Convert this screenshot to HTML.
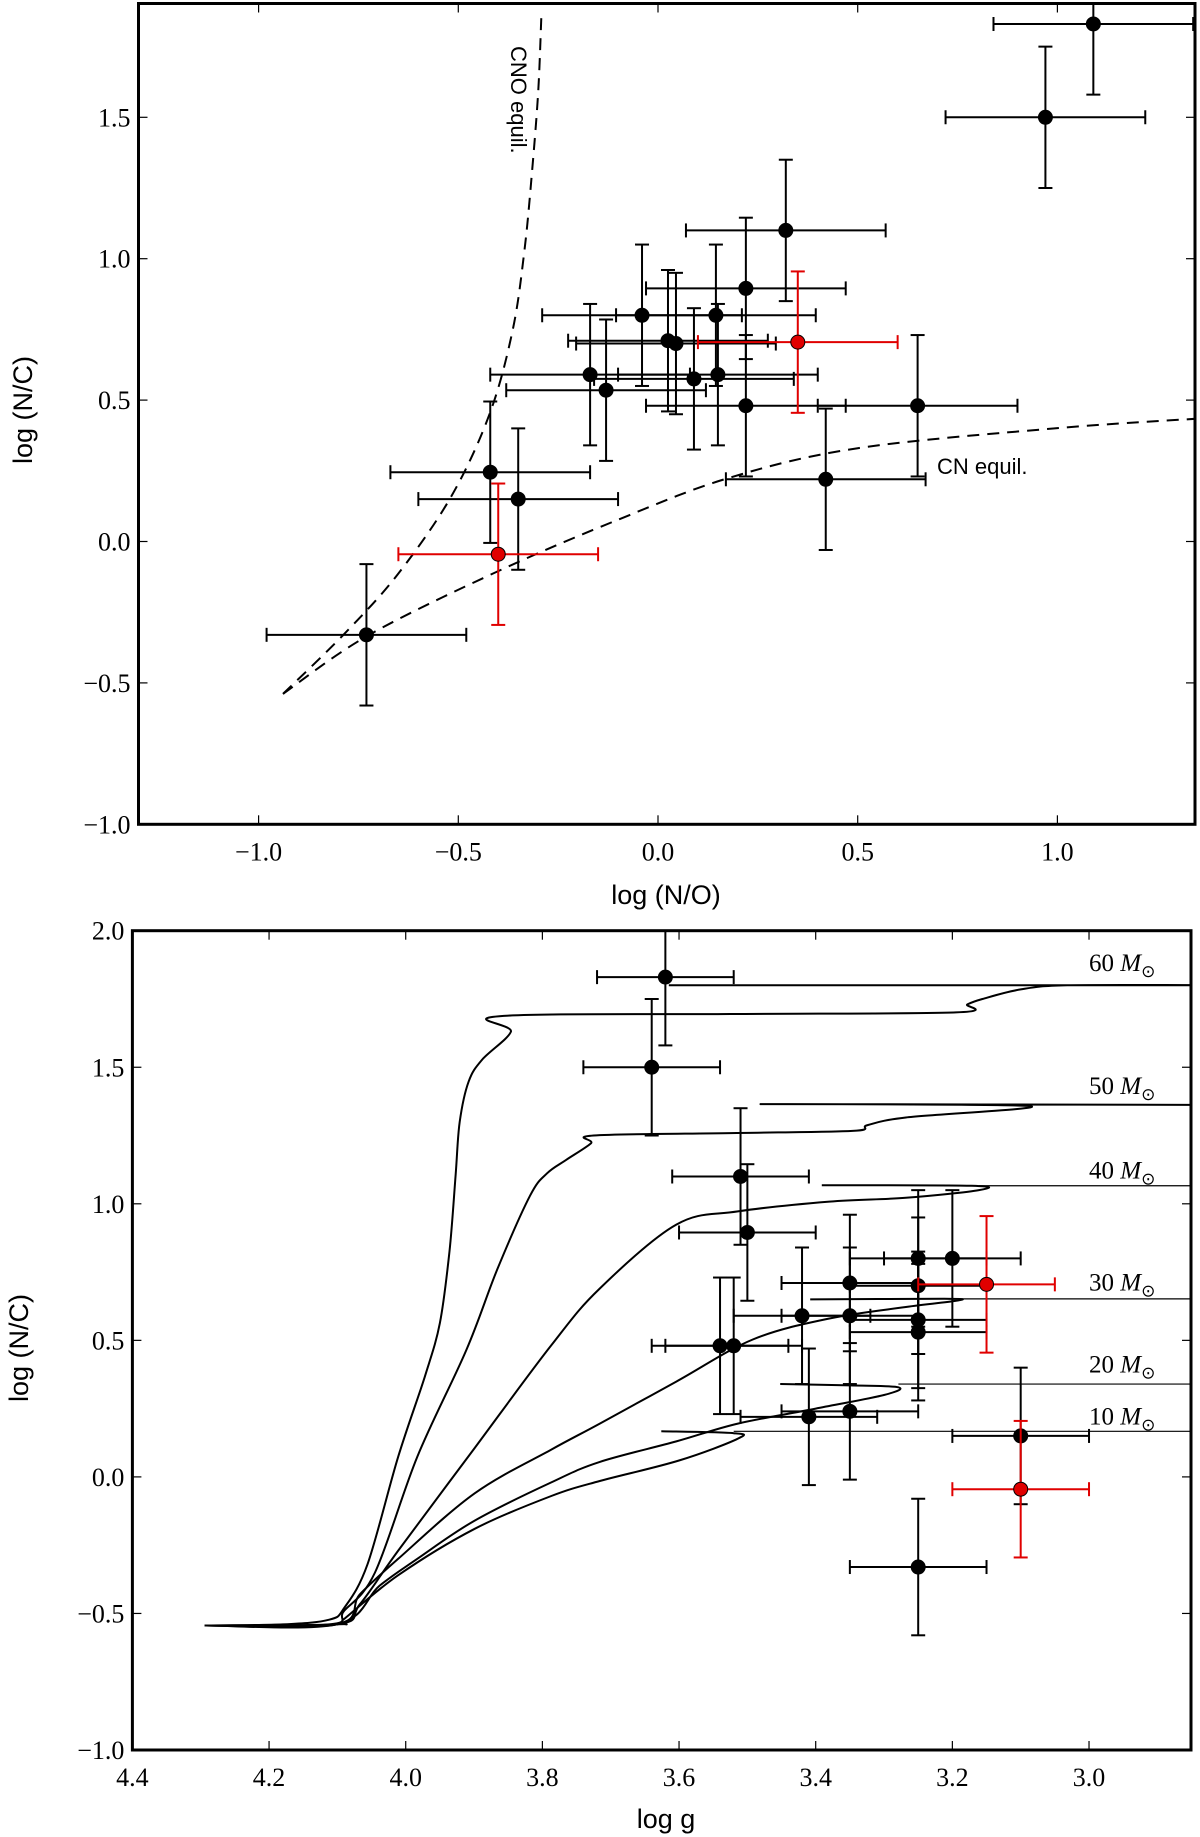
<!DOCTYPE html>
<html><head><meta charset="utf-8"><style>
html,body{margin:0;padding:0;background:#fff;}
svg{display:block;}
.tick{font-family:"Liberation Serif",serif;font-size:26px;fill:#000;}
.alab{font-family:"Liberation Sans",sans-serif;font-size:27px;fill:#000;}
.ann{font-family:"Liberation Sans",sans-serif;font-size:22px;fill:#000;}
.mlab{font-family:"Liberation Serif",serif;font-size:25px;fill:#000;}
</style></head><body>
<svg id="fig" width="1200" height="1837" viewBox="0 0 1200 1837" xmlns="http://www.w3.org/2000/svg">
<g id="topPanel"></g>
<g id="botPanel"></g>
</svg>
<script>
// ---- data: top panel ----
const noVals = [1.09,0.97,0.32,0.22,-0.04,0.025,0.045,0.145,0.35,-0.17,-0.13,0.09,0.15,0.22,0.65,0.42,-0.42,-0.35,-0.40,-0.73];
const ncVals = [1.83,1.50,1.10,0.895,0.80,0.71,0.70,0.80,0.705,0.59,0.535,0.575,0.59,0.48,0.48,0.22,0.245,0.15,-0.045,-0.33];
const isRed  = [0,0,0,0,0,0,0,0,1,0,0,0,0,0,0,0,0,0,1,0];
const noErr = 0.25;
const ncErr = 0.25;
const cnoX = [-0.939,-0.785,-0.651,-0.517,-0.421,-0.364,-0.335,-0.316,-0.30,-0.292];
const cnoY = [-0.539,-0.326,-0.115,0.161,0.454,0.746,1.022,1.298,1.59,1.86];
const cnX = [-0.939,-0.728,-0.402,-0.095,0.18,0.50,0.993,1.357];
const cnY = [-0.539,-0.334,-0.106,0.08,0.226,0.33,0.40,0.435];
const topXTicks = [-1.0,-0.5,0.0,0.5,1.0];
const topYTicks = [-1.0,-0.5,0.0,0.5,1.0,1.5];
// ---- data: bottom panel ----
const gVals  = [3.62,3.64,3.51,3.50,3.25,3.20,3.15,3.35,3.25,3.42,3.35,3.25,3.25,3.54,3.52,3.41,3.35,3.10,3.10,3.25];
const gNc    = [1.83,1.50,1.10,0.895,0.80,0.80,0.705,0.71,0.70,0.59,0.59,0.575,0.53,0.48,0.48,0.22,0.24,0.15,-0.045,-0.33];
const gRed   = [0,0,0,0,0,0,1,0,0,0,0,0,0,0,0,0,0,0,1,0];
const gErr = 0.1;
const trackNames = ["60","50","40","30","20","10"];
const trackG = [
 [4.294,4.18,4.112,4.09,4.056,4.011,3.972,3.95,3.936,3.927,3.921,3.908,3.888,3.846,3.863,3.525,3.195,3.178,3.156,3.10,3.032,2.85,3.615],
 [4.294,4.112,4.09,4.045,3.983,3.911,3.866,3.818,3.793,3.765,3.729,3.725,3.525,3.346,3.324,3.268,3.088,3.478,2.85],
 [4.294,4.101,4.067,4.011,3.899,3.787,3.716,3.604,3.514,3.38,3.268,3.161,3.172,3.391],
 [4.294,4.101,4.067,4.011,3.899,3.787,3.716,3.604,3.492,3.38,3.268,3.192,3.212,3.408],
 [4.294,4.101,4.039,3.983,3.899,3.787,3.716,3.604,3.514,3.40,3.30,3.279,3.35,3.452],
 [4.294,4.101,4.09,4.011,3.899,3.787,3.716,3.60,3.514,3.52,3.626]
];
const trackN = [
 [-0.544,-0.54,-0.523,-0.48,-0.32,0.074,0.368,0.564,0.826,1.104,1.30,1.447,1.528,1.63,1.687,1.695,1.701,1.73,1.75,1.785,1.80,1.80,1.80],
 [-0.544,-0.54,-0.49,-0.35,0.074,0.466,0.76,1.03,1.112,1.161,1.221,1.25,1.259,1.267,1.288,1.316,1.358,1.365,1.362],
 [-0.544,-0.54,-0.466,-0.27,0.106,0.482,0.69,0.924,0.972,1.008,1.022,1.05,1.066,1.068],
 [-0.544,-0.54,-0.43,-0.30,-0.06,0.10,0.195,0.349,0.503,0.58,0.622,0.646,0.652,0.65],
 [-0.544,-0.54,-0.40,-0.30,-0.16,-0.02,0.055,0.13,0.195,0.25,0.30,0.328,0.335,0.34],
 [-0.544,-0.54,-0.52,-0.36,-0.19,-0.07,-0.015,0.06,0.14,0.16,0.167]
];
const thinStartG = [null,null,3.161,3.192,3.279,3.52];
const thinN = [null,null,1.066,0.652,0.34,0.167];
const labelN = [1.83,1.38,1.07,0.66,0.36,0.17];
const botXTicks = [4.4,4.2,4.0,3.8,3.6,3.4,3.2,3.0];
const botYTicks = [-1.0,-0.5,0.0,0.5,1.0,1.5,2.0];

const NS="http://www.w3.org/2000/svg";
function mk(parent,tag,attrs){const e=document.createElementNS(NS,tag);for(const k in attrs)e.setAttribute(k,attrs[k]);parent.appendChild(e);return e;}
function fmt(v,d){let s=v.toFixed(d);return s.replace('-','\u2212');}

const T={x0:138.5,x1:1195,y0:3.5,y1:824.3};
const tx=v=>658+v*399.4;
const ty=v=>824.3-(v+1)*282.8;
const B={x0:132.4,x1:1191,y0:930.7,y1:1750};
const bx=v=>132.4+(4.4-v)*683.3;
const by=v=>930.7+(2-v)*273.1;

function frame(g,A,name){
  const r=mk(g,'rect',{x:A.x0,y:A.y0,width:A.x1-A.x0,height:A.y1-A.y0,fill:'none',stroke:'#000','stroke-width':3});
  
  
}
function ticksX(g,A,vals,f,dec,name){
  vals.forEach(v=>{const x=f(v);
    mk(g,'line',{x1:x,y1:A.y1,x2:x,y2:A.y1-9,stroke:'#000','stroke-width':1.2});
    mk(g,'line',{x1:x,y1:A.y0,x2:x,y2:A.y0+9,stroke:'#000','stroke-width':1.2});
    const t=mk(g,'text',{x:x,y:A.y1+36,'text-anchor':'middle',class:'tick'});t.textContent=fmt(v,dec);
    
    
  });
}
function ticksY(g,A,vals,f,name){
  vals.forEach(v=>{const y=f(v);
    mk(g,'line',{x1:A.x0,y1:y,x2:A.x0+9,y2:y,stroke:'#000','stroke-width':1.2});
    mk(g,'line',{x1:A.x1,y1:y,x2:A.x1-9,y2:y,stroke:'#000','stroke-width':1.2});
    const t=mk(g,'text',{x:A.x0-8,y:y+9,'text-anchor':'end',class:'tick'});t.textContent=fmt(v,1);
    
    
  });
}
function errPoint(g,cx,cy,xl,xr,yt,yb,red){
  const c=red?'#e00000':'#000';
  const pg=mk(g,'g',{});
  
  
  mk(pg,'line',{x1:xl,y1:cy,x2:xr,y2:cy,stroke:c,'stroke-width':2});
  mk(pg,'line',{x1:cx,y1:yt,x2:cx,y2:yb,stroke:c,'stroke-width':2});
  [xl,xr].forEach(x=>mk(pg,'line',{x1:x,y1:cy-7,x2:x,y2:cy+7,stroke:c,'stroke-width':2}));
  [yt,yb].forEach(y=>mk(pg,'line',{x1:cx-7,y1:y,x2:cx+7,y2:y,stroke:c,'stroke-width':2}));
  mk(pg,'circle',{cx:cx,cy:cy,r:7,fill:red?'#e00000':'#000',stroke:'#000','stroke-width':1});
}
// smooth Catmull-Rom path through data points
function smoothFrom(xs,ys,fx,fy){
  const P=xs.map((v,i)=>[fx(v),fy(ys[i])]);
  let d='M'+P[0][0].toFixed(1)+','+P[0][1].toFixed(1);
  for(let i=0;i<P.length-1;i++){
    const p0=P[i-1]||P[i],p1=P[i],p2=P[i+1],p3=P[i+2]||P[i+1];
    const c1=[p1[0]+(p2[0]-p0[0])/6,p1[1]+(p2[1]-p0[1])/6];
    const c2=[p2[0]-(p3[0]-p1[0])/6,p2[1]-(p3[1]-p1[1])/6];
    d+=' C'+c1[0].toFixed(1)+','+c1[1].toFixed(1)+' '+c2[0].toFixed(1)+','+c2[1].toFixed(1)+' '+p2[0].toFixed(1)+','+p2[1].toFixed(1);
  }
  return d;
}

// ===== TOP =====
const topPanel=document.getElementById('topPanel');
const clipT=mk(topPanel,'clipPath',{id:'ct'});mk(clipT,'rect',{x:T.x0,y:T.y0,width:T.x1-T.x0,height:T.y1-T.y0});
const tg=mk(topPanel,'g',{'clip-path':'url(#ct)'});
const cno=mk(tg,'path',{d:smoothFrom(cnoX,cnoY,tx,ty),fill:'none',stroke:'#000','stroke-width':2,'stroke-dasharray':'12,8'});


const cn=mk(tg,'path',{d:smoothFrom(cnX,cnY,tx,ty),fill:'none',stroke:'#000','stroke-width':2,'stroke-dasharray':'12,8'});


noVals.forEach((v,i)=>{if(isRed[i])return;errPoint(tg,tx(v),ty(ncVals[i]),tx(v-noErr),tx(v+noErr),ty(ncVals[i]+ncErr),ty(ncVals[i]-ncErr),false);});
noVals.forEach((v,i)=>{if(!isRed[i])return;errPoint(tg,tx(v),ty(ncVals[i]),tx(v-noErr),tx(v+noErr),ty(ncVals[i]+ncErr),ty(ncVals[i]-ncErr),true);});
frame(topPanel,T,'top-plot-frame');
ticksX(topPanel,T,topXTicks,tx,1,'x-tick-label');
ticksY(topPanel,T,topYTicks,ty,'y-tick-label');
let lbl=mk(topPanel,'text',{x:0,y:0,class:'ann',transform:'translate(511,46) rotate(90)'});lbl.textContent='CNO equil.';


lbl=mk(topPanel,'text',{x:937,y:474,class:'ann'});lbl.textContent='CN equil.';


lbl=mk(topPanel,'text',{x:666,y:904,'text-anchor':'middle',class:'alab'});lbl.textContent='log (N/O)';


lbl=mk(topPanel,'text',{x:0,y:0,'text-anchor':'middle',class:'alab',transform:'translate(32,410) rotate(-90)'});lbl.textContent='log (N/C)';



// ===== BOTTOM =====
const botPanel=document.getElementById('botPanel');
const clipB=mk(botPanel,'clipPath',{id:'cb'});mk(clipB,'rect',{x:B.x0,y:B.y0,width:B.x1-B.x0,height:B.y1-B.y0});
const bg=mk(botPanel,'g',{'clip-path':'url(#cb)'});
trackG.forEach((xs,i)=>{
  const p=mk(bg,'path',{d:smoothFrom(xs,trackN[i],bx,by),fill:'none',stroke:'#000','stroke-width':2,'stroke-linejoin':'round'});
  
  
  if(thinStartG[i]!==null){
    const l=mk(bg,'line',{x1:bx(thinStartG[i]),y1:by(thinN[i]),x2:B.x1,y2:by(thinN[i]),stroke:'#000','stroke-width':1.2});
    
    
  }
});
gVals.forEach((v,i)=>{if(gRed[i])return;errPoint(bg,bx(v),by(gNc[i]),bx(v+gErr),bx(v-gErr),by(gNc[i]+ncErr),by(gNc[i]-ncErr),false);});
gVals.forEach((v,i)=>{if(!gRed[i])return;errPoint(bg,bx(v),by(gNc[i]),bx(v+gErr),bx(v-gErr),by(gNc[i]+ncErr),by(gNc[i]-ncErr),true);});
trackNames.forEach((n,i)=>{
  const tt=mk(botPanel,'text',{x:1089,y:by(labelN[i])-6,class:'mlab'});
  tt.textContent=n+' ';
  const m=mk(tt,'tspan',{'font-style':'italic'});m.textContent='M';
  const s=mk(tt,'tspan',{'font-size':17,dy:6});s.textContent='\u2299';
  
  
});
frame(botPanel,B,'bottom-plot-frame');
ticksX(botPanel,B,botXTicks,bx,1,'x-tick-label');
ticksY(botPanel,B,botYTicks,by,'y-tick-label');
lbl=mk(botPanel,'text',{x:666,y:1828,'text-anchor':'middle',class:'alab'});lbl.textContent='log g';


lbl=mk(botPanel,'text',{x:0,y:0,'text-anchor':'middle',class:'alab',transform:'translate(28,1348) rotate(-90)'});lbl.textContent='log (N/C)';


</script>
</body></html>
